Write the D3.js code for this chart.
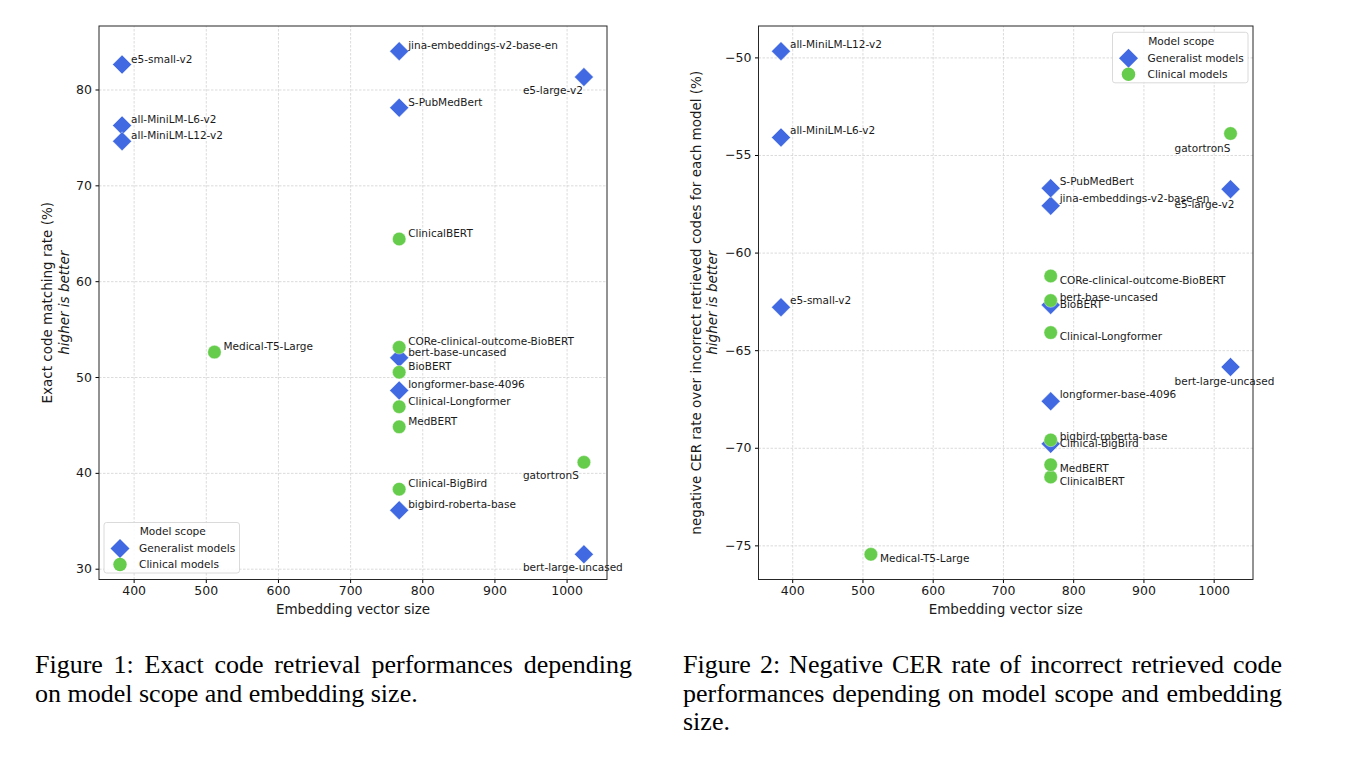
<!DOCTYPE html>
<html>
<head>
<meta charset="utf-8">
<script src="https://cdn.jsdelivr.net/npm/d3@7"></script>
<style>
  body { margin: 0; background: #fff; }
  svg text { font-family: "DejaVu Sans", sans-serif; fill: #1a1a1a; }
  .tick text { font-size: 12.5px; }
  .grid line { stroke: #d2d2d2; stroke-width: 0.8; stroke-dasharray: 2.5,1.5; }
  .caption { font-family: "Liberation Serif", "Times New Roman", serif; font-size: 26px; fill: #000 !important; }
</style>
</head>
<body>
<svg id="fig" width="1348" height="762"></svg>
<script>
// data
const models = [
  "all-MiniLM-L6-v2", "all-MiniLM-L12-v2", "e5-small-v2", "e5-large-v2",
  "jina-embeddings-v2-base-en", "S-PubMedBert", "bert-base-uncased", "bert-large-uncased",
  "longformer-base-4096", "bigbird-roberta-base",
  "ClinicalBERT", "BioBERT", "MedBERT", "CORe-clinical-outcome-BioBERT",
  "Clinical-Longformer", "Clinical-BigBird", "gatortronS", "Medical-T5-Large"
];
const embedSize = [384, 384, 384, 1024, 768, 768, 768, 1024, 768, 768,
                   768, 768, 768, 768, 768, 768, 1024, 512];
const scope = ["Generalist", "Generalist", "Generalist", "Generalist", "Generalist",
               "Generalist", "Generalist", "Generalist", "Generalist", "Generalist",
               "Clinical", "Clinical", "Clinical", "Clinical", "Clinical", "Clinical",
               "Clinical", "Clinical"];
// Figure 1: exact code matching rate (%)
const exactMatch = [76.25, 74.6, 82.6, 81.3, 84.0, 78.1, 52.0, 31.5, 48.6, 36.1,
                    64.4, 50.5, 44.8, 53.1, 46.9, 38.3, 41.1, 52.6];
// Figure 2: negative CER rate (%)
const negCER = [-54.1, -49.68, -62.8, -56.75, -57.6, -56.7, -62.68, -65.86, -67.62, -69.8,
                -71.5, -62.46, -70.87, -61.2, -64.1, -69.6, -53.9, -75.46];

const xTicks = [400, 500, 600, 700, 800, 900, 1000];
const yTicks1 = [30, 40, 50, 60, 70, 80];
const yTicks2 = [-75, -70, -65, -60, -55, -50];
const scopeKeys = ["Generalist", "Clinical"];
const scopeLabels = ["Generalist models", "Clinical models"];

const colors = { Generalist: "#4169e1", Clinical: "#66cc4c" };
const diamond = d3.symbol().type(d3.symbolSquare).size(180)();
const circle = d3.symbol().type(d3.symbolCircle).size(143)();
const fmt = d3.format("d");

const svg = d3.select("#fig");

// matplotlib-style 5% padding around the data
function padded(vals) {
  const [lo, hi] = d3.extent(vals);
  const m = (hi - lo) * 0.05;
  return [lo - m, hi + m];
}

const panels = [
  { left: 99, right: 607, top: 26, bottom: 579.5, values: exactMatch, yTicks: yTicks1,
    ylabel: "Exact code matching rate (%)", ylabelX: 47.5, italicX: 64,
    legend: "lower left", farDx: -61, farDy: 16.5,
    near: (i) => [9, -2] },
  { left: 758.5, right: 1253, top: 26, bottom: 579.5, values: negCER, yTicks: yTicks2,
    ylabel: "negative CER rate over incorrect retrieved codes for each model (%)", ylabelX: 696, italicX: 712,
    legend: "upper right", farDx: -56, farDy: 18.5,
    near: (i) => scope[i] === "Generalist" ? [9, -3.5] : [9, 7.5] }
];

const maxSize = d3.max(embedSize);
// generalists first, clinicals drawn on top
const order = d3.range(models.length).sort((a, b) =>
  scopeKeys.indexOf(scope[a]) - scopeKeys.indexOf(scope[b]) || a - b);

panels.forEach(p => {
  const w = p.right - p.left, h = p.bottom - p.top;
  const x = d3.scaleLinear().domain(padded(embedSize)).range([0, w]);
  const y = d3.scaleLinear().domain(padded(p.values)).range([h, 0]);

  const g = svg.append("g").attr("transform", `translate(${p.left},${p.top})`);

  // grid
  g.append("g").attr("class", "grid")
    .attr("transform", `translate(0,${h})`)
    .call(d3.axisBottom(x).tickValues(xTicks).tickSize(-h).tickFormat(""))
    .call(s => s.select(".domain").remove());
  g.append("g").attr("class", "grid")
    .call(d3.axisLeft(y).tickValues(p.yTicks).tickSize(-w).tickFormat(""))
    .call(s => s.select(".domain").remove());

  // axes
  g.append("g").attr("transform", `translate(0,${h})`)
    .call(d3.axisBottom(x).tickValues(xTicks).tickFormat(fmt).tickSize(3.5).tickPadding(3.5))
    .call(s => s.select(".domain").remove())
    .call(s => s.selectAll("text").attr("font-family", null));
  g.append("g")
    .call(d3.axisLeft(y).tickValues(p.yTicks).tickFormat(fmt).tickSize(3.5).tickPadding(3.5))
    .call(s => s.select(".domain").remove())
    .call(s => s.selectAll("text").attr("font-family", null));

  g.append("rect").attr("width", w).attr("height", h)
    .attr("fill", "none").attr("stroke", "#262626").attr("stroke-width", 1);

  // axis labels
  g.append("text").attr("x", w / 2).attr("y", h + 34.5)
    .attr("text-anchor", "middle").style("font-size", "13.5px")
    .text("Embedding vector size");
  const cy = p.top + h / 2;
  svg.append("text")
    .attr("transform", `translate(${p.ylabelX},${cy}) rotate(-90)`)
    .attr("dy", "0.35em").attr("text-anchor", "middle").style("font-size", "13.5px")
    .text(p.ylabel);
  svg.append("text")
    .attr("transform", `translate(${p.italicX},${cy}) rotate(-90)`)
    .attr("dy", "0.35em").attr("text-anchor", "middle").style("font-size", "13.5px")
    .style("font-style", "italic")
    .text("higher is better");

  // points
  g.selectAll(".pt").data(order).enter().append("path")
    .attr("class", "pt")
    .attr("d", i => scope[i] === "Generalist" ? diamond : circle)
    .attr("transform", i => `translate(${x(embedSize[i])},${y(p.values[i])})` +
      (scope[i] === "Generalist" ? " rotate(45)" : ""))
    .attr("fill", i => colors[scope[i]])
    .attr("stroke", "#fff").attr("stroke-width", 0.4);

  // point labels
  g.selectAll(".lbl").data(order).enter().append("text")
    .attr("class", "lbl")
    .attr("x", i => x(embedSize[i]) + (embedSize[i] === maxSize ? p.farDx : p.near(i)[0]))
    .attr("y", i => y(p.values[i]) + (embedSize[i] === maxSize ? p.farDy : p.near(i)[1]))
    .style("font-size", "10.5px")
    .text(i => models[i]);

  // legend
  const lw = 135.5, lh = 50.5;
  const lx = p.legend === "lower left" ? 5 : w - 5 - lw;
  const ly = p.legend === "lower left" ? h - 6.5 - lh : 6.3;
  const lg = g.append("g").attr("transform", `translate(${lx},${ly})`);
  lg.append("rect").attr("width", lw).attr("height", lh).attr("rx", 2.5)
    .attr("fill", "#fff").attr("fill-opacity", 0.85)
    .attr("stroke", "#d0d0d0").attr("stroke-width", 0.8);
  lg.append("text").attr("x", lw / 2 + 1).attr("y", 9).attr("dy", "0.35em")
    .attr("text-anchor", "middle").style("font-size", "10.6px").text("Model scope");
  scopeKeys.forEach((k, j) => {
    const yy = 26 + j * 16;
    lg.append("path")
      .attr("d", k === "Generalist" ? diamond : circle)
      .attr("transform", `translate(16,${yy})` + (k === "Generalist" ? " rotate(45)" : ""))
      .attr("fill", colors[k]);
    lg.append("text").attr("x", 35).attr("y", yy).attr("dy", "0.35em")
      .style("font-size", "10.6px").text(scopeLabels[j]);
  });
});

// captions, justified like the LaTeX column
const captions = [
  { x: 35, width: 597, lines: ["Figure 1: Exact code retrieval performances depending",
                               "on model scope and embedding size."] },
  { x: 683, width: 599, lines: ["Figure 2: Negative CER rate of incorrect retrieved code",
                                "performances depending on model scope and embedding",
                                "size."] }
];
captions.forEach(c => {
  c.lines.forEach((line, k) => {
    const t = svg.append("text").attr("class", "caption")
      .attr("x", c.x).attr("y", 673.3 + k * 28.2).text(line);
    if (k < c.lines.length - 1) {
      const natural = t.node().getComputedTextLength();
      const spaces = line.split(" ").length - 1;
      t.attr("word-spacing", (c.width - natural) / spaces);
    }
  });
});
</script>
</body>
</html>
